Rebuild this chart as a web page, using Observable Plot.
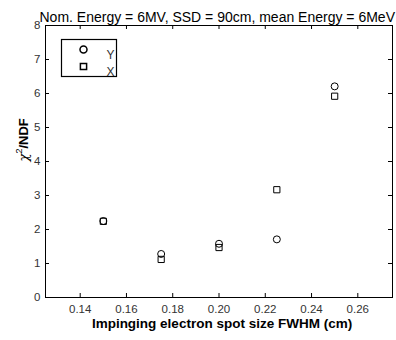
<!DOCTYPE html>
<html><head><meta charset="utf-8">
<script src="https://cdn.jsdelivr.net/npm/d3@7"></script>
<script src="https://cdn.jsdelivr.net/npm/@observablehq/plot@0.6"></script>
<style>body{margin:0;background:#fff}</style>
</head><body><div id="chart"></div>
<script>
const spotSize = [0.15, 0.175, 0.20, 0.225, 0.25];
const chiY = [2.25, 1.28, 1.58, 1.71, 6.21];
const chiX = [2.24, 1.12, 1.47, 3.17, 5.92];
const seriesNames = ["Y", "X"];
const seriesSymbols = ["circle", "square"];
const xTicks = [0.14, 0.16, 0.18, 0.20, 0.22, 0.24, 0.26];
const yTicks = [0, 1, 2, 3, 4, 5, 6, 7, 8];
const titleText = "Nom. Energy = 6MV, SSD = 90cm, mean Energy = 6MeV";
const xLabel = "Impinging electron spot size FWHM (cm)";
const yLabel = "χ2/NDF";

const data = [
  ...spotSize.map((x, i) => ({x, v: chiY[i], s: seriesNames[0]})),
  ...spotSize.map((x, i) => ({x, v: chiX[i], s: seriesNames[1]}))
];

const W = 396, H = 340, mL = 45, mR = 4, mT = 25, mB = 43;
const iw = W - mL - mR, ih = H - mT - mB, tk = 4;
const font = "'Liberation Sans', Arial, Helvetica, sans-serif";

const chart = Plot.plot({
  width: W, height: H,
  marginLeft: mL, marginRight: mR, marginTop: mT, marginBottom: mB,
  style: {fontFamily: font, fontSize: "11px", background: "white", color: "black", overflow: "visible"},
  x: {domain: [0.125, 0.275], axis: null},
  y: {domain: [0, 8], axis: null},
  symbol: {domain: seriesNames, range: seriesSymbols},
  marks: [
    Plot.frame({stroke: "black"}),
    Plot.tickX(xTicks, {x: d => d, insetTop: ih - tk, stroke: "black"}),
    Plot.tickX(xTicks, {x: d => d, insetBottom: ih - tk, stroke: "black"}),
    Plot.tickY(yTicks, {y: d => d, insetRight: iw - tk, stroke: "black"}),
    Plot.tickY(yTicks, {y: d => d, insetLeft: iw - tk, stroke: "black"}),
    Plot.axisX(xTicks, {tickSize: 0, tickPadding: 7, tickFormat: d3.format(".2f"), label: null, fill: "#333", fontSize: 11.5}),
    Plot.axisY(yTicks, {tickSize: 0, tickPadding: 5, tickFormat: d3.format("d"), label: null, fill: "#333", fontSize: 11.5}),
    Plot.text([xLabel], {frameAnchor: "bottom", dx: 3, dy: 30, fontWeight: "bold", fontSize: 13.5, fill: "black"}),
    Plot.text([yLabel], {frameAnchor: "left", dx: -22, rotate: -90, fontWeight: "bold", fontSize: 13, fill: "black"}),
    Plot.text([titleText], {frameAnchor: "top-left", textAnchor: "start", dx: -6, dy: -13, fontSize: 14, fill: "black"}),
    Plot.dot(data, {x: "x", y: "v", symbol: "s", stroke: "black", fill: "none", r: 3.5, strokeWidth: 1}),
    Plot.frame({insetLeft: 16, insetTop: 14, insetRight: 276, insetBottom: 221, stroke: "black", strokeWidth: 1.2}),
    Plot.dot([seriesNames[0]], {frameAnchor: "top-left", dx: 38, dy: 24, symbol: d => d, stroke: "black", fill: "none", r: 3.5}),
    Plot.dot([seriesNames[1]], {frameAnchor: "top-left", dx: 38, dy: 41, symbol: d => d, stroke: "black", fill: "none", r: 3.5}),
    Plot.text([seriesNames[0]], {frameAnchor: "top-left", dx: 61, dy: 25, text: d => d, fontSize: 12, fill: "#333"}),
    Plot.text([seriesNames[1]], {frameAnchor: "top-left", dx: 61, dy: 42, text: d => d, fontSize: 12, fill: "#333"})
  ]
});
document.getElementById("chart").appendChild(chart);

// style the y-axis label: italic chi, superscript 2, bold "/NDF"
d3.select(chart).selectAll("text").filter(function() { return this.textContent === yLabel; }).each(function() {
  const t = d3.select(this);
  t.text(null);
  t.append("tspan").attr("font-style", "italic").attr("font-weight", "normal").attr("font-family", "'DejaVu Serif', serif").text("χ");
  t.append("tspan").attr("font-weight", "normal").attr("font-size", 9).attr("dy", -6).text("2");
  t.append("tspan").attr("dy", 6).text("/NDF");
});
</script>
</body></html>
